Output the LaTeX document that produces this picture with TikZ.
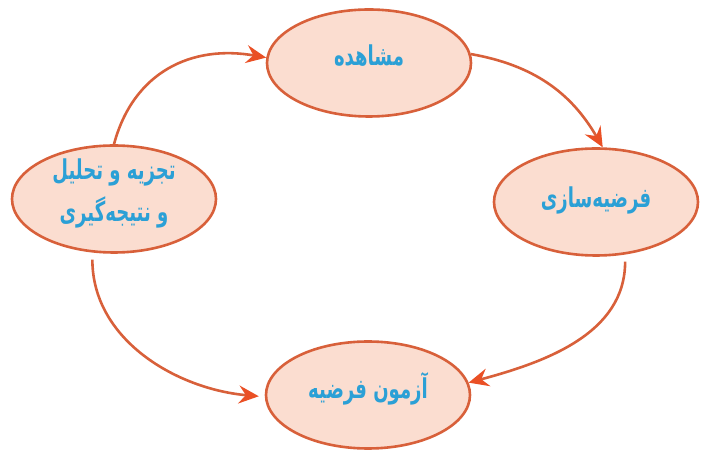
\documentclass[tikz,border=0pt]{standalone}
\usepackage{fontspec}
\usepackage{graphicx}
\usetikzlibrary{shapes.geometric,arrows.meta}
\TeXXeTstate=1
\newfontfamily\arabicfont[Script=Arabic]{DejaVu Sans}
\newcommand{\ptext}[2][6pt]{\raisebox{#1}[\height][\depth]{\scalebox{0.86}[1.3]{\beginR #2\endR}}}
\definecolor{edgec}{HTML}{D8603A}
\definecolor{fillc}{HTML}{FBDDD0}
\definecolor{textc}{HTML}{2BA0D6}
\definecolor{tipc}{HTML}{EA5025}
\begin{document}
\begin{tikzpicture}[x=1pt,y=1pt,
  stagebox/.style={ellipse, draw=edgec, fill=fillc, line width=2.6pt,
    minimum width=204pt, minimum height=107pt, inner sep=0pt,
    font=\arabicfont\bfseries\fontsize{21}{42}\selectfont, text=textc, align=center},
  flow/.style={draw=edgec, line width=2.6pt,
    -{Stealth[length=20pt,width=18pt,inset=7pt,fill=tipc,color=tipc]}}]
\useasboundingbox (0,0) rectangle (709,460);
\node[stagebox] (T) at (369,397) {\ptext[7pt]{مشاهده}};
\node[stagebox] (R) at (596,258) {\ptext[2pt]{فرضیه^^^^200cسازی}};
\node[stagebox] (B) at (368,65) {\ptext[6pt]{آزمون فرضیه}};
\node[stagebox] (L) at (114,261) {\ptext[6pt]{تجزیه و تحلیل}\\\ptext[6pt]{و نتیجه^^^^200cگیری}};
\draw[flow] (L.north) to[out=75,in=170,looseness=1.1] (T.177);
\draw[flow] (T.5) to[out=-10,in=120] (R.83);
\draw[flow,shorten <=7pt] (R.-61) to[out=-90,in=15] (B.7);
\draw[flow,shorten <=7pt,shorten >=6pt] (L.-112) to[out=-90,in=175] (B.181);
\end{tikzpicture}
\end{document}
